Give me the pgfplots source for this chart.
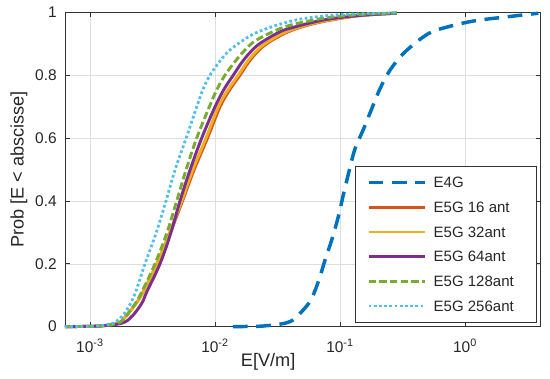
\documentclass[border=0pt]{standalone}
\usepackage{fontspec}
\setmainfont{Liberation Sans}
\usepackage{pgfplots}
\pgfplotsset{compat=1.18}
\definecolor{cA}{rgb}{0,0.447,0.741}
\definecolor{cB}{rgb}{0.85,0.325,0.098}
\definecolor{cC}{rgb}{0.929,0.694,0.125}
\definecolor{cD}{rgb}{0.494,0.184,0.556}
\definecolor{cE}{rgb}{0.466,0.674,0.188}
\definecolor{cF}{rgb}{0.301,0.745,0.933}
\newcommand\fz{\fontsize{11.25}{13.5}\selectfont}
\newcommand\ft{\fontsize{11.6}{14}\selectfont}
\newcommand\fl{\fontsize{13.6}{16}\selectfont}
\newcommand\legtxt[1]{\makebox[66pt][l]{#1}}
\begin{document}
\fz
\begin{tikzpicture}[font=\fz]
\path[use as bounding box] (-48.75pt,-39.2pt) rectangle (363.75pt,245pt);
\begin{axis}[
  at={(0,0)}, anchor=south west,
  scale only axis, width=356.8pt, height=235.8pt,
  xmode=log, log basis x=10,
  xmin=6.31e-4, xmax=4.03, ymin=0, ymax=1,
  xtick={1e-3,1e-2,1e-1,1},
  xticklabels={10\textsuperscript{-3},10\textsuperscript{-2},10\textsuperscript{-1},10\textsuperscript{0}},
  ytick={0,0.2,0.4,0.6,0.8,1},
  yticklabels={0,0.2,0.4,0.6,0.8,1},
  xmajorgrids, xminorgrids, ymajorgrids,
  major grid style={color=black!13, line width=0.4pt},
  minor grid style={color=black!30, dotted, line width=0.4pt},
  tick align=inside, tick pos=both,
  major tick length=3.6pt, minor tick length=2.2pt,
  tick style={color=black!80, line width=0.5pt},
  axis line style={color=black!80, line width=0.5pt},
  every tick label/.append style={font=\ft, color=black!85},
  xticklabel style={yshift=-5.5pt},
  yticklabel style={xshift=-2.3pt},
  xlabel={E[V/m]}, ylabel={Prob [E < abscisse]},
  label style={font=\fl, color=black!85},
  xlabel style={at={(axis description cs:0.427,-0.1123)}, anchor=center},
  ylabel style={at={(axis description cs:-0.0967,0.5)}, anchor=center},
  clip=false,
  legend style={at={(axis description cs:0.9916,0.0127)}, anchor=south east,
    draw=black!80, line width=0.5pt, fill=white,
    inner xsep=9pt, inner ysep=4pt, row sep=2pt, column sep=3pt,
    font=\fz, text=black!85,
    nodes={inner sep=2pt, text height=10pt, text depth=2.5pt}},
  legend cell align=left,
  legend image code/.code={\draw[#1] (0pt,0pt) -- (42.5pt,0pt);},
]
\addplot[cA, line width=2.6pt, dash pattern=on 11pt off 6.5pt, smooth, tension=0.55] coordinates {
(0.0139,0) (0.0200,0.001) (0.0242,0.002) (0.0331,0.008) (0.0398,0.016)
(0.0451,0.032) (0.0575,0.08) (0.067,0.143) (0.0759,0.212) (0.0858,0.276)
(0.0969,0.35) (0.1062,0.419) (0.1191,0.50) (0.1318,0.566) (0.1536,0.627)
(0.1793,0.693) (0.2089,0.757) (0.2512,0.816) (0.3311,0.874) (0.5083,0.932)
(0.7345,0.954) (1.202,0.973) (2.22,0.986) (3.86,0.997)};
\addlegendentry{\legtxt{E4G}}
\addplot[cB, line width=2.2pt, smooth, tension=0.6] coordinates {
(0.000631,0) (0.001,0.001) (0.0012023,0.002) (0.0016749,0.011) (0.0019231,0.032)
(0.0023335,0.074) (0.0026546,0.11) (0.0034356,0.2) (0.0043652,0.297) (0.0054954,0.4)
(0.006792,0.498) (0.0087096,0.6) (0.010965,0.699) (0.013183,0.755) (0.015849,0.8)
(0.01847,0.84) (0.021558,0.872)
(0.025918,0.9) (0.035645,0.932) (0.046559,0.95) (0.061944,0.964) (0.089536,0.977)
(0.14997,0.99) (0.2842,0.997)};
\addlegendentry{\legtxt{E5G 16 ant}}
\addplot[cC, line width=2.2pt, smooth, tension=0.6] coordinates {
(0.000631,0) (0.001,0.001) (0.0012023,0.002) (0.0016749,0.011) (0.0019231,0.032)
(0.0023335,0.074) (0.0026546,0.11) (0.0034174,0.2) (0.0043093,0.297) (0.005415,0.4)
(0.0066312,0.498) (0.0084723,0.6) (0.010627,0.699) (0.012777,0.755) (0.015361,0.8)
(0.01793,0.84) (0.020893,0.872)
(0.025119,0.9) (0.034356,0.932) (0.045036,0.95) (0.059704,0.964) (0.086298,0.977)
(0.14454,0.99) (0.2842,0.997)};
\addlegendentry{\legtxt{E5G 32ant}}
\addplot[cD, line width=2.2pt, smooth, tension=0.6] coordinates {
(0.000631,0) (0.001,0.001) (0.0012023,0.002) (0.0017932,0.011) (0.0021561,0.032)
(0.0025918,0.074) (0.0028418,0.11) (0.0036308,0.2) (0.0044219,0.297) (0.0052481,0.4)
(0.0063096,0.498) (0.0078307,0.6) (0.01,0.699) (0.011803,0.755) (0.014012,0.8)
(0.016356,0.84) (0.019055,0.872)
(0.022909,0.901) (0.033113,0.938) (0.042306,0.952) (0.057544,0.966) (0.083176,0.979)
(0.14454,0.99) (0.2842,0.997)};
\addlegendentry{\legtxt{E5G 64ant}}
\addplot[cE, line width=2.2pt, dash pattern=on 5.5pt off 2.5pt, smooth, tension=0.6] coordinates {
(0.000631,0) (0.001,0.001) (0.0012023,0.002) (0.0016749,0.011) (0.0019055,0.03)
(0.0022909,0.072) (0.0025918,0.11) (0.0033113,0.2) (0.0041084,0.297) (0.0049385,0.4)
(0.0058614,0.498) (0.0071403,0.6) (0.0090032,0.699) (0.010375,0.755) (0.012023,0.8)
(0.014454,0.843) (0.017378,0.88)
(0.021558,0.912) (0.035188,0.952) (0.057544,0.973) (0.083176,0.984) (0.14454,0.993)
(0.2842,0.998)};
\addlegendentry{\legtxt{E5G 128ant}}
\addplot[cF, line width=2.1pt, dash pattern=on 2pt off 1.9pt, smooth, tension=0.6] coordinates {
(0.000631,0) (0.001,0.001) (0.0012023,0.003) (0.0015276,0.011) (0.0017932,0.032)
(0.0020137,0.06) (0.0022909,0.105) (0.0027542,0.2) (0.0033729,0.297) (0.0040551,0.4)
(0.0047863,0.498) (0.0059376,0.605) (0.0071403,0.699) (0.008017,0.755) (0.0091201,0.8)
(0.010965,0.845) (0.013183,0.88)
(0.019055,0.925) (0.025918,0.948) (0.033113,0.962) (0.047863,0.978) (0.083176,0.99)
(0.14454,0.995) (0.2842,0.998)};
\addlegendentry{\legtxt{E5G 256ant}}
\end{axis}
\end{tikzpicture}
\end{document}
